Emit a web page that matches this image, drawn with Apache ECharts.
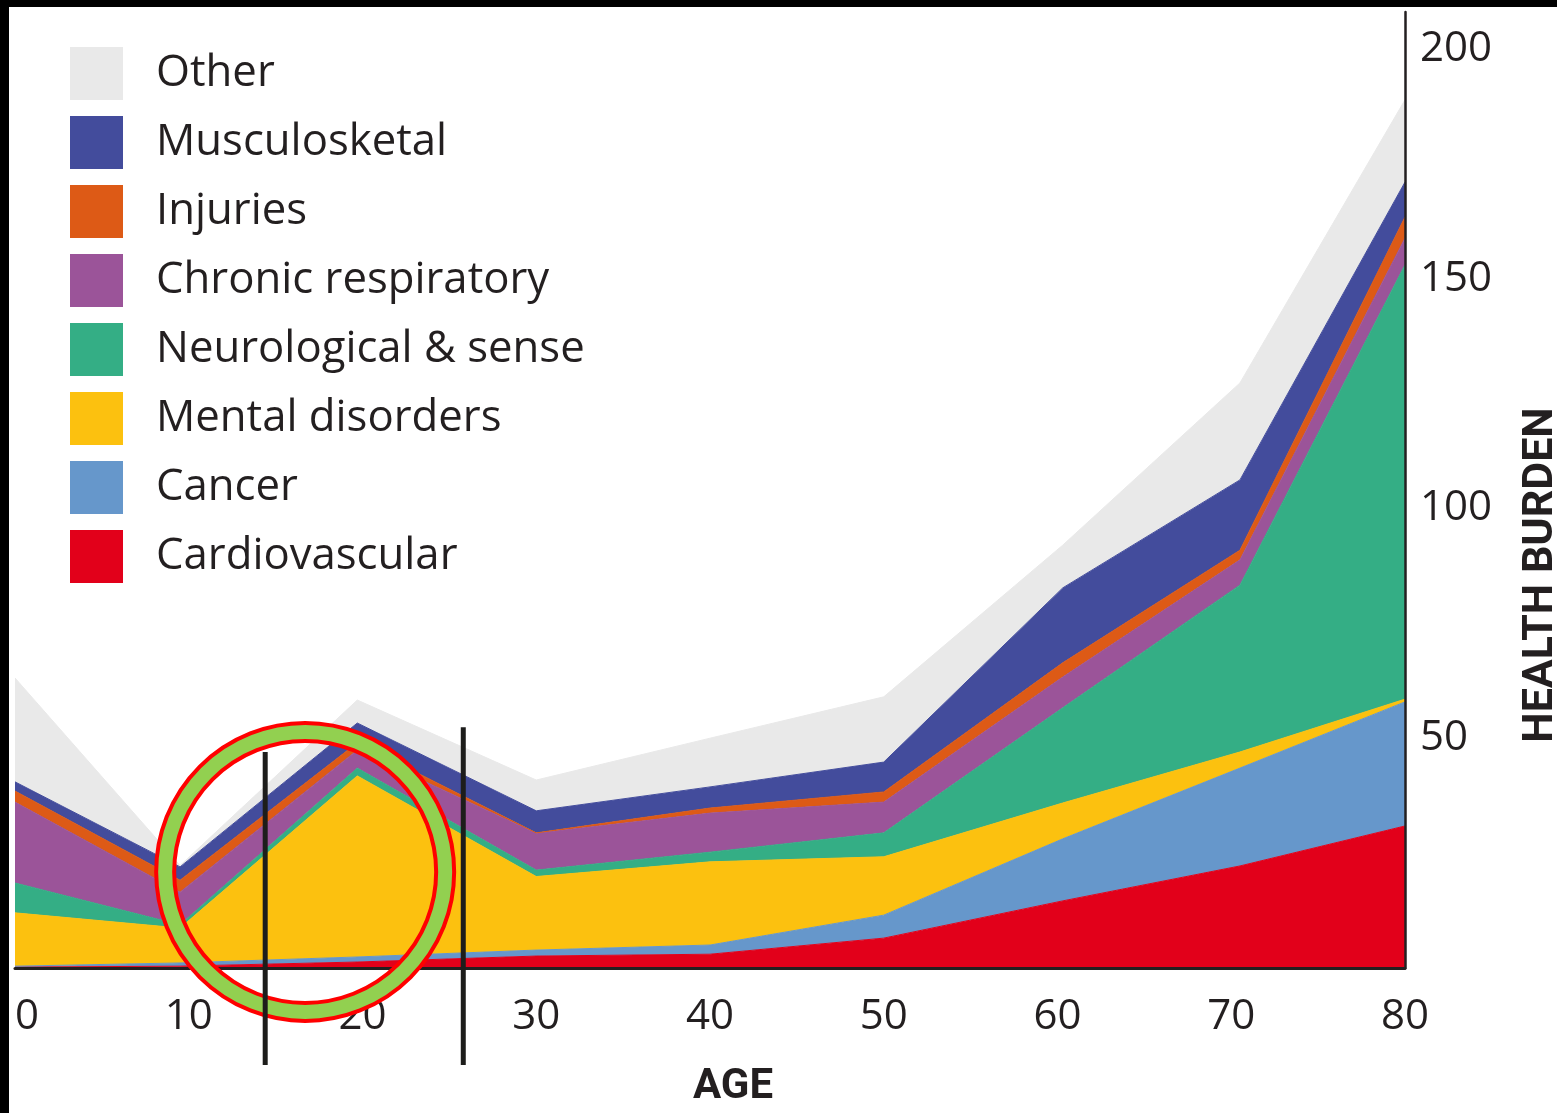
<!DOCTYPE html>
<html>
<head>
<meta charset="utf-8">
<script src="https://cdn.jsdelivr.net/npm/echarts@6/dist/echarts.min.js"></script>
<style>
html,body{margin:0;padding:0;background:#000;width:1557px;height:1113px;overflow:hidden}
#chart{position:absolute;left:9px;top:7px;width:1548px;height:1106px;background:#fff}
</style>
</head>
<body>
<div id="chart"></div>
<script>
// ---- data ----
const ages = [0, 9.5, 19.7, 30, 40, 50, 60.3, 70.5, 80];
const cardiovascular     = [0.2, 0.4, 1.3, 2.6, 3.0, 6.5, 14.6, 22.2, 30.9];
const cancer             = [0.2, 0.7, 1.1, 1.3, 2.0, 5.0, 13.5, 21.3, 27.0];
const mentalDisorders    = [11.6, 7.6, 39.4, 16.0, 18.1, 12.7, 7.8, 3.5, 0.6];
const neurological       = [6.5, 0.7, 1.7, 1.4, 2.1, 5.2, 20.7, 36.3, 94.5];
const chronicRespiratory = [17.6, 7.1, 3.9, 8.0, 8.5, 6.7, 6.7, 5.5, 5.8];
const injuries           = [2.4, 2.6, 1.6, 0.1, 1.1, 2.2, 3.1, 2.1, 4.6];
const musculoskeletal    = [2.0, 2.9, 4.3, 4.8, 4.6, 6.5, 16.3, 15.3, 7.6];
const other              = [22.6, 0.3, 5.0, 6.7, 10.6, 14.2, 9.3, 21.1, 17.9];

const seriesNames = ['Cardiovascular','Cancer','Mental disorders','Neurological & sense','Chronic respiratory','Injuries','Musculosketal','Other'];
const seriesValues = [cardiovascular, cancer, mentalDisorders, neurological, chronicRespiratory, injuries, musculoskeletal, other];
const legendOrder = ['Other','Musculosketal','Injuries','Chronic respiratory','Neurological & sense','Mental disorders','Cancer','Cardiovascular'];

// annotations (age, health burden)
const markerAges = [14.4, 25.8];
const markerTops = [47.0, 52.4];
const markerBottom = -21.1;
const focusPoint = [16.7, 20.9];

const colors = {
  'Cardiovascular':'#e2001a',
  'Cancer':'#6697cb',
  'Mental disorders':'#fcc10f',
  'Neurological & sense':'#34ae85',
  'Chronic respiratory':'#9b5499',
  'Injuries':'#dd5a16',
  'Musculosketal':'#434c9c',
  'Other':'#e9e9e9'
};

const textColor = '#231f20';
const chart = echarts.init(document.getElementById('chart'));

// value first, age second, so the stack is computed on the value dimension
const series = seriesNames.map((name, k) => ({
  name: name,
  type: 'line',
  stack: 'burden',
  data: ages.map((a, i) => [seriesValues[k][i], a]),
  encode: { x: 1, y: 0 },
  symbol: 'none',
  silent: true,
  z: 2,
  itemStyle: { color: colors[name] },
  lineStyle: { width: 1, color: colors[name] },
  areaStyle: { color: colors[name], opacity: 1 }
}));

series.push({
  name: 'focus-outer', type: 'scatter', data: [focusPoint], symbol: 'circle', symbolSize: 280,
  clip: false, silent: true, z: 5,
  itemStyle: { color: 'rgba(0,0,0,0)', borderColor: '#ff0000', borderWidth: 22, opacity: 1 }
});
series.push({
  name: 'focus-inner', type: 'scatter', data: [focusPoint], symbol: 'circle', symbolSize: 280,
  clip: false, silent: true, z: 6,
  itemStyle: { color: 'rgba(0,0,0,0)', borderColor: '#92d050', borderWidth: 14, opacity: 1 }
});
markerAges.forEach((a, i) => {
  series.push({
    name: 'marker' + i, type: 'line', data: [[a, markerTops[i]], [a, markerBottom]],
    symbol: 'none', clip: false, silent: true, z: 7,
    lineStyle: { color: '#1d1d1b', width: 5 }
  });
});

chart.setOption({
  animation: false,
  grid: { left: 6, right: 152, top: 5, bottom: 145, containLabel: false, outerBoundsMode: 'none' },
  legend: {
    orient: 'vertical', left: 56, top: 35,
    itemWidth: 53, itemHeight: 53, itemGap: 16, icon: 'rect',
    data: legendOrder,
    itemStyle: { borderWidth: 0 },
    textStyle: { fontFamily: 'Open Sans', fontSize: 43.7, color: textColor, padding: [10, 0, 0, 28] }
  },
  xAxis: {
    type: 'value', min: 0, max: 80, interval: 10, z: 4,
    name: 'AGE', nameLocation: 'middle', nameGap: 98,
    nameTextStyle: { fontFamily: 'Roboto', fontWeight: 'bold', fontSize: 42, color: textColor, padding: [0, 0, 0, 46] },
    axisLine: { onZero: false, lineStyle: { color: textColor, width: 3 } },
    axisTick: { show: false },
    splitLine: { show: false },
    axisLabel: { fontFamily: 'Open Sans', fontSize: 42, color: textColor, margin: 28, alignMinLabel: 'left' }
  },
  yAxis: {
    type: 'value', position: 'right', min: 0, max: 208, interval: 50, z: 4,
    name: 'HEALTH BURDEN', nameLocation: 'middle', nameRotate: 90, nameGap: 115,
    nameTextStyle: { fontFamily: 'Roboto', fontWeight: 'bold', fontSize: 43, color: textColor, padding: [0, 170, 0, 0] },
    axisLine: { show: true, onZero: false, lineStyle: { color: textColor, width: 2.5 } },
    axisTick: { show: false },
    splitLine: { show: false },
    axisLabel: {
      fontFamily: 'Open Sans', fontSize: 42, color: textColor, margin: 15,
      formatter: v => (v > 0 && v % 50 === 0) ? String(v) : ''
    }
  },
  series: series
});
</script>
</body>
</html>
